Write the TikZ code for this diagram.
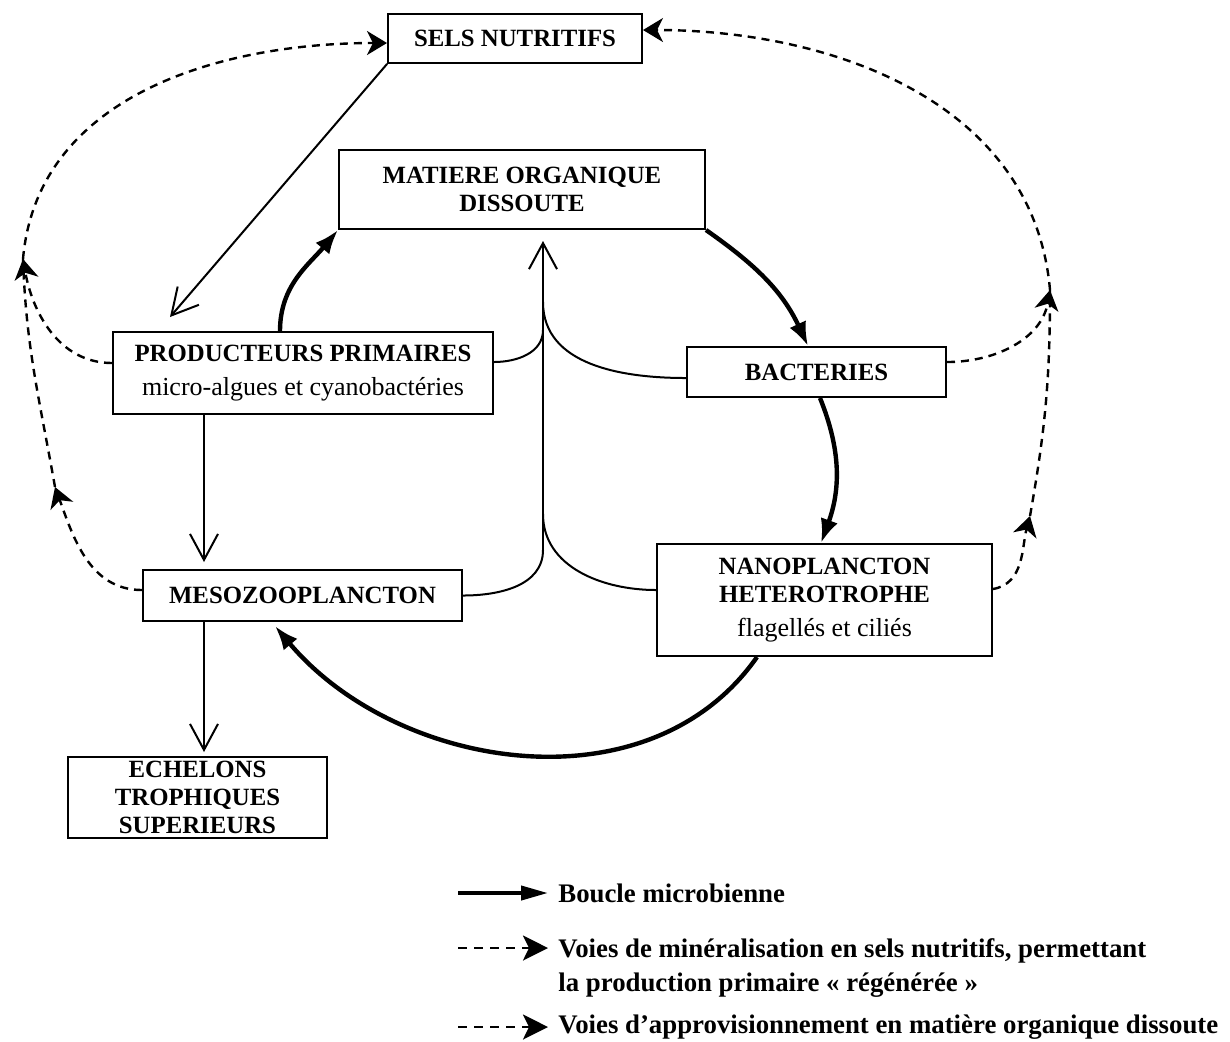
\documentclass[tikz,border=0pt]{standalone}
\usepackage{fontspec}
\setmainfont{Liberation Serif}
\usetikzlibrary{arrows.meta}

\tikzset{
	box/.style={draw,line width=1pt,align=center,inner sep=0pt,font=\fontsize{12.4}{14}\selectfont\bfseries},
	barb/.style={line width=1pt,line cap=round,-{Straight Barb[length=13pt,width=14pt]}},
	loopline/.style={line width=2.2pt,-{Latex[length=12pt,width=9pt]}},
	dashline/.style={line width=1.2pt,dash pattern=on 4pt off 3pt},
	dtip/.tip={Stealth[length=10pt,width=12pt,inset=3pt]},
	legdash/.style={line width=1.4pt,dash pattern=on 4.5pt off 3.5pt,-{Stealth[length=12.5pt,width=12.5pt,inset=3pt]}},
	legtext/.style={font=\fontsize{13.4}{17}\selectfont\bfseries,inner sep=0pt,align=left}
}
\newcommand{\sous}[1]{{\normalfont\fontsize{13}{15}\selectfont #1}}

\begin{document}
\begin{tikzpicture}[x=0.5pt,y=-0.5pt]
	\useasboundingbox (0,0) rectangle (1230,1041);
	\node [box,minimum width=127pt,minimum height=24.5pt] (sels) at (515,38.5) {SELS NUTRITIFS};
	\node [box,minimum width=183pt,minimum height=39.5pt] (mod) at (522,189.5) {MATIERE ORGANIQUE\\DISSOUTE};
	\node [box,minimum width=190pt,minimum height=41pt] (prod) at (303,373) {PRODUCTEURS PRIMAIRES\\[3pt]\sous{micro-algues et cyanobactéries}};
	\node [box,minimum width=129.5pt,minimum height=25pt] (bact) at (816.5,372) {BACTERIES};
	\node [box,minimum width=159.5pt,minimum height=25.5pt] (meso) at (302.5,595.5) {MESOZOOPLANCTON};
	\node [box,minimum width=167.5pt,minimum height=56pt] (nano) at (824.5,600) {NANOPLANCTON\\HETEROTROPHE\\[3pt]\sous{flagellés et ciliés}};
	\node [box,minimum width=129.5pt,minimum height=40.5pt] (echel) at (197.5,797.5) {ECHELONS\\TROPHIQUES\\SUPERIEURS};

	\coordinate (ytop) at (543,241);
	\coordinate (ybact) at (543,302);
	\coordinate (yprod) at (543,330);
	\coordinate (ynano) at (543,514);
	\coordinate (ybot) at (543,550);
	\coordinate (lefttip) at (23,259);
	\coordinate (midleft) at (55,487);
	\coordinate (righttip) at (1050,290);
	\coordinate (midright) at (1030,516);

	\draw [barb] (sels.south west) -- ([xshift=-66.5pt,yshift=7pt]prod.north);
	\draw [barb] ([xshift=-49.5pt]prod.south) -- ([xshift=-49.25pt,yshift=3.5pt]meso.north);
	\draw [barb] ([xshift=-49.25pt]meso.south) -- ([xshift=3.25pt,yshift=2pt]echel.north);
	\draw [barb] (ybot) -- (ytop);
	\draw [line width=1pt] ([yshift=5.5pt]prod.east) to[out=0,in=-90] (yprod);
	\draw [line width=1pt] (ybact) to[out=-90,in=180] ([yshift=-3pt]bact.west);
	\draw [line width=1pt] (meso.east) to[out=0,in=-90] (ybot);
	\draw [line width=1pt] (ynano) to[out=-90,in=180] ([yshift=5pt]nano.west);

	\draw [loopline] ([xshift=-11.5pt]prod.north) to[out=90,in=-130] (mod.south west);
	\draw [loopline] (mod.south east) to[out=-35,in=115] ([xshift=-4.25pt]bact.north);
	\draw [loopline] ([xshift=1.75pt]bact.south) to[out=-68,in=70] ([xshift=-1.75pt]nano.north);
	\draw [loopline] ([xshift=-33.75pt]nano.south) to[out=-125,in=-50] ([xshift=-13.75pt,yshift=-2pt]meso.south);

	\draw [dashline,-dtip] ([yshift=5pt]prod.west) to[out=180,in=-80] (lefttip);
	\draw [dashline,-dtip] ([yshift=2.75pt]meso.west) to[out=180,in=-70] (midleft);
	\draw [dashline] (midleft) to[out=100,in=-88] (lefttip);
	\draw [dashline,-dtip] (lefttip) to[out=85,in=180] ([yshift=-2.25pt]sels.west);
	\draw [dashline,-dtip] ([yshift=5pt]bact.east) to[out=0,in=-100] (righttip);
	\draw [dashline,-dtip] ([yshift=5.5pt]nano.east) to[out=10,in=-105] (midright);
	\draw [dashline] (midright) to[out=80,in=-90] (righttip);
	\draw [dashline,-dtip] (righttip) to[out=95,in=0] ([yshift=4.25pt]sels.east);

	\node [legtext,anchor=west] (leg1) at (558,893) {Boucle microbienne};
	\node [legtext,anchor=base west] (leg2) at (558,991) {Voies de minéralisation en sels nutritifs, permettant\\la production primaire « régénérée »};
	\node [legtext,anchor=west] (leg3) at (558,1027) {Voies d’approvisionnement en matière organique dissoute};
	\coordinate (l1) at (458,893);
	\coordinate (l2) at (458,948);
	\coordinate (l3) at (458,1027);
	\draw [line width=2pt,-{Triangle[length=13.5pt,width=7pt]}] (l1) -- ([xshift=-5pt]leg1.west);
	\draw [legdash] (l2) -- (l2 -| 548,0);
	\draw [legdash] (l3) -- ([xshift=-5pt]leg3.west);
\end{tikzpicture}
\end{document}
